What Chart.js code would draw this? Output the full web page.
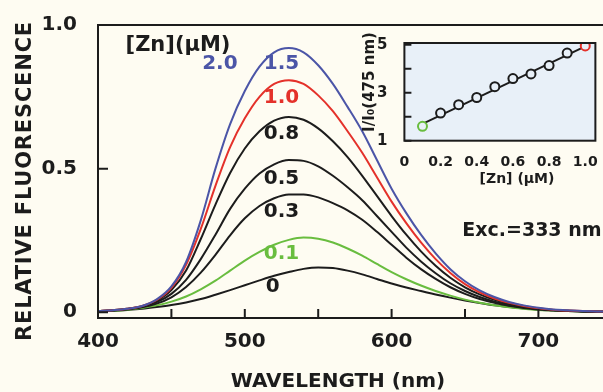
<!DOCTYPE html>
<html>
<head>
<meta charset="utf-8">
<script src="https://cdn.jsdelivr.net/npm/chart.js@4.4.0/dist/chart.umd.min.js"></script>
<style>
  html, body { margin: 0; padding: 0; background: #fefcf2; }
  #wrap { position: relative; width: 603px; height: 392px; overflow: hidden; }
  #main { position: absolute; left: 0; top: 0; }
  #inset { position: absolute; left: 350px; top: 25px; }
</style>
</head>
<body>
<div id="wrap">
  <canvas id="main" width="603" height="392"></canvas>
  <canvas id="inset" width="253" height="170"></canvas>
</div>
<script>
// ---------- data ----------
const wavelengths = [400, 410, 420, 430, 440, 450, 460, 470, 480, 490, 500, 510, 520, 530, 540, 550, 560, 570, 580, 590,
                     600, 610, 620, 630, 640, 650, 660, 670, 680, 690, 700, 710, 720, 730, 740, 750];

const zn15 = [0.004, 0.007, 0.012, 0.022, 0.045, 0.09, 0.175, 0.32, 0.50, 0.655, 0.77, 0.855, 0.905, 0.92, 0.905, 0.86, 0.795, 0.715, 0.63, 0.53,
              0.43, 0.345, 0.27, 0.205, 0.15, 0.108, 0.076, 0.053, 0.036, 0.024, 0.016, 0.01, 0.007, 0.004, 0.003, 0.002];
const zn10 = [0.004, 0.007, 0.012, 0.022, 0.043, 0.085, 0.165, 0.29, 0.44, 0.575, 0.675, 0.75, 0.795, 0.808, 0.795, 0.755, 0.70, 0.63, 0.555, 0.47,
              0.385, 0.31, 0.243, 0.185, 0.137, 0.098, 0.069, 0.048, 0.033, 0.022, 0.014, 0.009, 0.006, 0.004, 0.003, 0.002];
const zn08 = [0.004, 0.007, 0.012, 0.021, 0.04, 0.077, 0.145, 0.255, 0.375, 0.485, 0.57, 0.63, 0.667, 0.68, 0.67, 0.64, 0.595, 0.54, 0.475, 0.405,
              0.335, 0.27, 0.212, 0.162, 0.12, 0.087, 0.062, 0.043, 0.03, 0.02, 0.013, 0.008, 0.005, 0.004, 0.003, 0.002];
const zn05 = [0.004, 0.006, 0.011, 0.019, 0.035, 0.064, 0.113, 0.185, 0.27, 0.36, 0.43, 0.483, 0.515, 0.53, 0.527, 0.508, 0.475, 0.435, 0.39, 0.335,
              0.28, 0.225, 0.177, 0.136, 0.101, 0.074, 0.053, 0.037, 0.026, 0.017, 0.011, 0.007, 0.005, 0.003, 0.002, 0.002];
const zn03 = [0.004, 0.006, 0.01, 0.017, 0.03, 0.052, 0.088, 0.138, 0.20, 0.268, 0.327, 0.37, 0.397, 0.41, 0.41, 0.40, 0.38, 0.355, 0.322, 0.28,
              0.235, 0.19, 0.15, 0.116, 0.087, 0.064, 0.046, 0.033, 0.023, 0.015, 0.01, 0.007, 0.004, 0.003, 0.002, 0.002];
const zn01 = [0.003, 0.005, 0.009, 0.015, 0.024, 0.037, 0.055, 0.08, 0.11, 0.145, 0.18, 0.21, 0.235, 0.252, 0.26, 0.256, 0.243, 0.222, 0.197, 0.168,
              0.14, 0.115, 0.093, 0.074, 0.058, 0.044, 0.033, 0.024, 0.017, 0.012, 0.008, 0.006, 0.004, 0.003, 0.002, 0.002];
const zn00 = [0.003, 0.005, 0.008, 0.012, 0.018, 0.025, 0.034, 0.046, 0.061, 0.077, 0.094, 0.111, 0.127, 0.14, 0.151, 0.156, 0.154, 0.145, 0.132, 0.116,
              0.10, 0.086, 0.074, 0.062, 0.051, 0.041, 0.032, 0.024, 0.018, 0.013, 0.009, 0.006, 0.004, 0.003, 0.002, 0.002];

const xTickLabels = [400, 500, 600, 700];
const xTickMarks = [450, 500, 550, 600, 650, 700];
const yTickLabels = [0, 0.5, 1.0];

// inset: I/I0 at 475 nm vs [Zn]
const znConc = [0.1, 0.2, 0.3, 0.4, 0.5, 0.6, 0.7, 0.8, 0.9, 1.0];
const ratio475 = [1.6, 2.15, 2.5, 2.8, 3.25, 3.59, 3.78, 4.13, 4.65, 4.95];
const fitConc = [0.1, 1.0];
const fitRatio = [1.7, 4.93];
const insetXTicks = [0, 0.2, 0.4, 0.6, 0.8, 1.0];
const insetYTicks = [1, 2, 3, 4, 5];
const insetYLabels = [1, 3, 5];

// ---------- styles ----------
const FONT = '"DejaVu Sans", sans-serif';
const BLACK = '#1c1c1c';
const BLUE = '#4b55a7';
const RED = '#e4312a';
const GREEN = '#69bd3f';
const INSET_BG = '#e8f0f8';

function toPoints(xs, ys) {
    return xs.map((x, i) => ({ x: x, y: ys[i] }));
}

function curve(values, color) {
    return {
        data: toPoints(wavelengths, values),
        borderColor: color,
        borderWidth: 2,
        pointRadius: 0,
        fill: false,
        cubicInterpolationMode: 'monotone'
    };
}

// label text, wavelength, value, colour
const curveLabels = [
    ['2.0', 483, 0.866, BLUE],
    ['1.5', 525, 0.866, BLUE],
    ['1.0', 525, 0.746, RED],
    ['0.8', 525, 0.62, BLACK],
    ['0.5', 525, 0.465, BLACK],
    ['0.3', 525, 0.351, BLACK],
    ['0.1', 525, 0.202, GREEN],
    ['0', 519, 0.087, BLACK]
];

const mainDecor = {
    id: 'mainDecor',
    afterDraw(chart) {
        const { ctx, chartArea: a, scales: { x, y } } = chart;
        ctx.save();
        ctx.strokeStyle = BLACK;
        ctx.lineWidth = 2;
        ctx.strokeRect(a.left, a.top, a.right - a.left + 10, a.bottom - a.top);

        // inward tick marks
        ctx.beginPath();
        xTickMarks.forEach(v => {
            const px = x.getPixelForValue(v);
            ctx.moveTo(px, a.bottom);
            ctx.lineTo(px, a.bottom - 9);
        });
        yTickLabels.forEach(v => {
            const py = y.getPixelForValue(v);
            ctx.moveTo(a.left, py);
            ctx.lineTo(a.left + 10, py);
        });
        ctx.stroke();

        // curve labels
        ctx.font = 'bold 20px ' + FONT;
        ctx.textAlign = 'center';
        ctx.textBaseline = 'middle';
        curveLabels.forEach(([t, wl, v, c]) => {
            ctx.fillStyle = c;
            ctx.fillText(t, x.getPixelForValue(wl), y.getPixelForValue(v));
        });

        ctx.fillStyle = BLACK;
        ctx.font = 'bold 21px ' + FONT;
        ctx.fillText('[Zn](\u03bcM)', x.getPixelForValue(454.5), y.getPixelForValue(0.928));

        ctx.textAlign = 'right';
        ctx.font = 'bold 19px ' + FONT;
        ctx.fillText('Exc.=333 nm', x.getPixelForValue(743), y.getPixelForValue(0.282));

        // axis titles
        ctx.textAlign = 'center';
        ctx.font = 'bold 20px ' + FONT;
        ctx.fillText('WAVELENGTH (nm)', 338, 382);

        ctx.translate(26, 181);
        ctx.rotate(-Math.PI / 2);
        ctx.font = 'bold 21px ' + FONT;
        ctx.letterSpacing = '0.8px';
        ctx.fillText('RELATIVE FLUORESCENCE', 0, 0);
        ctx.restore();
    }
};

new Chart(document.getElementById('main'), {
    type: 'line',
    data: {
        datasets: [
            curve(zn15, BLUE),
            curve(zn10, RED),
            curve(zn08, BLACK),
            curve(zn05, BLACK),
            curve(zn03, BLACK),
            curve(zn01, GREEN),
            curve(zn00, BLACK)
        ]
    },
    options: {
        responsive: false,
        devicePixelRatio: 1,
        animation: false,
        layout: { padding: { top: 21, right: 0, left: 0, bottom: 0 } },
        plugins: { legend: { display: false }, tooltip: { enabled: false } },
        scales: {
            x: {
                type: 'linear',
                min: 400,
                max: 744,
                grid: { display: false },
                border: { display: false },
                afterBuildTicks: s => { s.ticks = xTickLabels.map(v => ({ value: v })); },
                afterFit: s => { s.height = 74; },
                ticks: { color: BLACK, padding: 4, maxRotation: 0, autoSkip: false, font: { family: FONT, size: 20, weight: 'bold' } }
            },
            y: {
                min: -0.02,
                max: 1.0,
                grid: { display: false },
                border: { display: false },
                afterBuildTicks: s => { s.ticks = yTickLabels.map(v => ({ value: v })); },
                afterFit: s => { s.width = 98; },
                ticks: {
                    color: BLACK,
                    padding: 13,
                    font: { family: FONT, size: 20, weight: 'bold' },
                    callback: v => v === 0 ? '0' : v.toFixed(1)
                }
            }
        }
    },
    plugins: [mainDecor]
});

// ---------- inset ----------
const insetDecor = {
    id: 'insetDecor',
    beforeDatasetsDraw(chart) {
        const { ctx, chartArea: a } = chart;
        ctx.save();
        ctx.fillStyle = INSET_BG;
        ctx.fillRect(a.left, a.top, a.right - a.left, a.bottom - a.top);
        ctx.restore();
    },
    afterDraw(chart) {
        const { ctx, chartArea: a, scales: { y } } = chart;
        ctx.save();
        ctx.strokeStyle = BLACK;
        ctx.lineWidth = 2;
        ctx.strokeRect(a.left, a.top, a.right - a.left, a.bottom - a.top);
        ctx.beginPath();
        insetYTicks.forEach(v => {
            const py = y.getPixelForValue(v);
            ctx.moveTo(a.left, py);
            ctx.lineTo(a.left + 7, py);
        });
        ctx.stroke();

        ctx.fillStyle = BLACK;
        ctx.textAlign = 'center';
        ctx.textBaseline = 'middle';
        ctx.font = 'bold 14px ' + FONT;
        ctx.fillText('[Zn] (\u03bcM)', 167, 154.5);

        ctx.translate(20, 57);
        ctx.rotate(-Math.PI / 2);
        ctx.font = 'bold 15px ' + FONT;
        ctx.fillText('I/I\u2080(475 nm)', 0, 0);
        ctx.restore();
    }
};

const pointColors = znConc.map((c, i) => i === 0 ? GREEN : (i === znConc.length - 1 ? RED : BLACK));

new Chart(document.getElementById('inset'), {
    type: 'scatter',
    data: {
        datasets: [{
            data: toPoints(znConc, ratio475),
            showLine: false,
            pointRadius: 4.5,
            pointBorderWidth: 2,
            pointBorderColor: pointColors,
            pointBackgroundColor: INSET_BG
        }, {
            data: toPoints(fitConc, fitRatio),
            showLine: true,
            borderColor: BLACK,
            borderWidth: 2,
            pointRadius: 0
        }]
    },
    options: {
        responsive: false,
        devicePixelRatio: 1,
        animation: false,
        layout: { padding: { top: 10, right: 5, left: 0, bottom: 0 } },
        plugins: { legend: { display: false }, tooltip: { enabled: false } },
        scales: {
            x: {
                type: 'linear',
                min: 0,
                max: 1.056,
                grid: { display: false },
                border: { display: false },
                afterBuildTicks: s => { s.ticks = insetXTicks.map(v => ({ value: v })); },
                afterFit: s => { s.height = 54.3; },
                ticks: {
                    color: BLACK, padding: 5, maxRotation: 0, autoSkip: false,
                    font: { family: FONT, size: 14, weight: 'bold' },
                    callback: v => v === 0 ? '0' : v.toFixed(1)
                }
            },
            y: {
                min: 1,
                max: 5.07,
                grid: { display: false },
                border: { display: false },
                afterBuildTicks: s => { s.ticks = insetYTicks.map(v => ({ value: v })); },
                afterFit: s => { s.width = 54.4; },
                ticks: {
                    color: BLACK, padding: 9,
                    font: { family: FONT, size: 15, weight: 'bold' },
                    callback: v => insetYLabels.includes(v) ? String(v) : ''
                }
            }
        }
    },
    plugins: [insetDecor]
});
</script>
</body>
</html>
